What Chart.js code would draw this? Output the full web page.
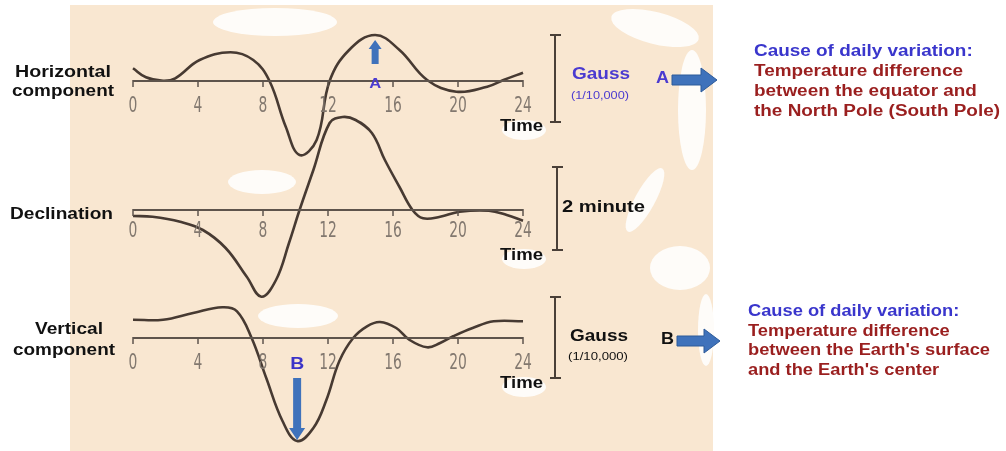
<!DOCTYPE html>
<html>
<head>
<meta charset="utf-8">
<script src="https://cdn.jsdelivr.net/npm/chart.js@4.4.1/dist/chart.umd.min.js"></script>
<style>
  html, body { margin: 0; padding: 0; background: #fff; }
  #wrap { position: relative; width: 1006px; height: 451px; }
</style>
</head>
<body>
<div id="wrap"><canvas id="geomag"></canvas></div>
<script>
// Hour ticks shared by the three traces
const timeTicks = [0, 4, 8, 12, 16, 20, 24];

// Horizontal component: deviation from its zero line (arbitrary units)
const horizontalHours  = [0, 0.8, 1.85, 2.6, 4.1, 6.0, 7.4, 8.4, 9.4, 10.25, 11.3, 12.1, 13.3, 14.9, 16.4, 18.1, 19.9, 21.8, 22.8, 24];
const horizontalValues = [12.7, 3.7, 0.3, 2.7, 21, 28.7, 21, 0, -45.7, -74, -59, 0, 31, 46, 31, 1, -10.7, -5.7, 1, 8.3];

// Declination
const declinationHours  = [0, 1.2, 2.9, 4.3, 5.7, 7.0, 7.9, 8.8, 9.6, 10.25, 11.1, 12.1, 12.9, 13.7, 14.7, 15.5, 16.4, 17.2, 17.85, 18.9, 20.1, 21.9, 23, 24];
const declinationValues = [-6, -6.7, -11.7, -20, -38, -66.7, -86.7, -70, -33, 0, 40, 87, 93, 90, 77, 50, 23, 0, -8.3, -6.7, -1.7, -0.7, -5, -10.7];

// Vertical component
const verticalHours  = [0, 1.85, 3.7, 5.5, 6.4, 7.3, 8.2, 9.2, 10.1, 11.1, 11.9, 12.7, 13.55, 14.4, 15.2, 16.2, 17.0, 18.1, 18.9, 19.7, 20.9, 22.2, 24];
const verticalValues = [18.3, 18.3, 25, 30.7, 26.7, 0, -40, -83, -103, -90, -62, -23, 0, 11.7, 16, 10, -1.7, -9.3, -5, 1.7, 10, 16.7, 16.7];

// where each trace's zero line sits on the shared vertical scale (0..451)
const panelZero = [370, 241, 113];
const panelLabelDrop = [26, 22, 26];

const inkColor = '#473a32';
const axisColor = '#5e544c';

function toPoints(hours, values, zero) {
    return hours.map((h, i) => ({ x: h, y: zero + values[i] }));
}

function baseline(zero) {
    return [{ x: 0, y: zero }, { x: 24, y: zero }];
}

// draw text squeezed/stretched to a given width
function fitText(ctx, str, x, y, width, font, color) {
    ctx.save();
    ctx.font = font;
    ctx.fillStyle = color;
    ctx.textBaseline = 'middle';
    ctx.textAlign = 'left';
    const w = ctx.measureText(str).width;
    ctx.translate(x, y);
    ctx.scale(width / w, 1);
    ctx.fillText(str, 0, 0);
    ctx.restore();
}

// a block of lines sharing one horizontal scale
function textBlock(ctx, lines, x, y0, step, longest, width, font, colors) {
    ctx.save();
    ctx.font = font;
    const s = width / ctx.measureText(longest).width;
    ctx.textBaseline = 'middle';
    lines.forEach((ln, i) => {
        ctx.save();
        ctx.fillStyle = colors[i];
        ctx.translate(x, y0 + i * step);
        ctx.scale(s, 1);
        ctx.fillText(ln, 0, 0);
        ctx.restore();
    });
    ctx.restore();
}

function blockArrow(ctx, x0, x1, y, color) {
    ctx.save();
    ctx.fillStyle = color;
    ctx.strokeStyle = '#2d5a99';
    ctx.lineWidth = 1;
    const head = 16;
    ctx.beginPath();
    ctx.moveTo(x0, y - 5);
    ctx.lineTo(x1 - head, y - 5);
    ctx.lineTo(x1 - head, y - 12);
    ctx.lineTo(x1, y);
    ctx.lineTo(x1 - head, y + 12);
    ctx.lineTo(x1 - head, y + 5);
    ctx.lineTo(x0, y + 5);
    ctx.closePath();
    ctx.fill();
    ctx.stroke();
    ctx.restore();
}

function vArrow(ctx, x, yTail, yTip, shaft, headW, headH, color) {
    const dir = yTip < yTail ? -1 : 1;
    const yHead = yTip - dir * headH;
    ctx.save();
    ctx.fillStyle = color;
    ctx.beginPath();
    ctx.moveTo(x - shaft / 2, yTail);
    ctx.lineTo(x - shaft / 2, yHead);
    ctx.lineTo(x - headW / 2, yHead);
    ctx.lineTo(x, yTip);
    ctx.lineTo(x + headW / 2, yHead);
    ctx.lineTo(x + shaft / 2, yHead);
    ctx.lineTo(x + shaft / 2, yTail);
    ctx.closePath();
    ctx.fill();
    ctx.restore();
}

const paperPlugin = {
    id: 'paper',
    beforeDraw(chart) {
        const ctx = chart.ctx;
        ctx.save();
        ctx.fillStyle = '#ffffff';
        ctx.fillRect(0, 0, chart.width, chart.height);
        ctx.fillStyle = '#f9e7d1';
        ctx.fillRect(70, 5, 643, 446);
        // white patches on the scanned sheet
        ctx.fillStyle = '#fefcf9';
        const blobs = [
            [275, 22, 62, 14, 0], [262, 182, 34, 12, 0], [298, 316, 40, 12, 0],
            [524, 130, 22, 10, 0], [524, 259, 22, 10, 0], [524, 387, 22, 10, 0],
            [655, 28, 45, 16, 0.25], [692, 110, 14, 60, 0], [645, 200, 10, 36, 0.5],
            [680, 268, 30, 22, 0], [706, 330, 8, 36, 0]
        ];
        blobs.forEach(b => {
            ctx.beginPath();
            ctx.ellipse(b[0], b[1], b[2], b[3], b[4], 0, Math.PI * 2);
            ctx.fill();
        });
        ctx.restore();
    }
};

const notesPlugin = {
    id: 'notes',
    afterDatasetsDraw(chart) {
        const ctx = chart.ctx;
        const xs = chart.scales.x, ys = chart.scales.y;

        panelZero.forEach((zero, p) => {
            const by = ys.getPixelForValue(zero);
            ctx.save();
            ctx.strokeStyle = axisColor;
            ctx.lineWidth = 1.5;
            timeTicks.forEach(t => {
                const px = xs.getPixelForValue(t);
                ctx.beginPath();
                ctx.moveTo(px, by - 1);
                ctx.lineTo(px, by + 6);
                ctx.stroke();
            });
            ctx.restore();

            ctx.save();
            ctx.font = '21px "DejaVu Sans"';
            ctx.fillStyle = '#82786f';
            ctx.textBaseline = 'middle';
            ctx.textAlign = 'center';
            timeTicks.forEach(t => {
                const px = xs.getPixelForValue(t);
                ctx.save();
                ctx.translate(px, by + panelLabelDrop[p]);
                ctx.scale(0.66, 1);
                ctx.fillText(String(t), 0, 0);
                ctx.restore();
            });
            ctx.restore();

            fitText(ctx, 'Time', 500, by + 46, 43, 'bold 16px Arial', '#111');
        });

        // scale bars
        const bars = [[555, 35, 122], [557, 167, 250], [555, 297, 378]];
        ctx.save();
        ctx.strokeStyle = '#4a4038';
        ctx.lineWidth = 2;
        bars.forEach(b => {
            ctx.beginPath();
            ctx.moveTo(b[0], b[1]); ctx.lineTo(b[0], b[2]);
            ctx.moveTo(b[0] - 5, b[1]); ctx.lineTo(b[0] + 6, b[1]);
            ctx.moveTo(b[0] - 5, b[2]); ctx.lineTo(b[0] + 6, b[2]);
            ctx.stroke();
        });
        ctx.restore();

        // left labels
        const lbl = 'bold 16px Arial';
        fitText(ctx, 'Horizontal', 15, 73, 96, lbl, '#111');
        fitText(ctx, 'component', 12, 92, 102, lbl, '#111');
        fitText(ctx, 'Declination', 10, 215, 103, lbl, '#111');
        fitText(ctx, 'Vertical', 35, 330, 68, lbl, '#111');
        fitText(ctx, 'component', 13, 351, 102, lbl, '#111');

        // units beside the bars
        fitText(ctx, 'Gauss', 572, 75, 58, 'bold 16px Arial', '#4b3bd0');
        fitText(ctx, '(1/10,000)', 571, 96, 58, '10px Arial', '#4b3bd0');
        fitText(ctx, '2 minute', 562, 208, 83, 'bold 16px Arial', '#111');
        fitText(ctx, 'Gauss', 570, 337, 58, 'bold 16px Arial', '#111');
        fitText(ctx, '(1/10,000)', 568, 357, 60, '10px Arial', '#111');

        // A and B markers
        const arrowBlue = '#3f72bb';
        fitText(ctx, 'A', 656, 79, 13, 'bold 16px Arial', '#4b3bd0');
        blockArrow(ctx, 672, 717, 80, arrowBlue);
        fitText(ctx, 'B', 661, 340, 13, 'bold 16px Arial', '#111');
        blockArrow(ctx, 677, 720, 341, arrowBlue);

        const ax = xs.getPixelForValue(14.9);
        vArrow(ctx, ax, 64, 40, 7, 13, 9, arrowBlue);
        fitText(ctx, 'A', ax - 6, 84, 12, 'bold 15px Arial', '#4b3bd0');
        const bx = xs.getPixelForValue(10.1);
        fitText(ctx, 'B', bx - 7, 364, 14, 'bold 17px Arial', '#3b33c8');
        vArrow(ctx, bx, 378, 440, 8, 16, 12, arrowBlue);

        // explanations on the right
        const red = '#9a1f1f', blue = '#3a36cc';
        textBlock(ctx, ['Cause of daily variation:', 'Temperature difference', 'between the equator and', 'the North Pole (South Pole)'],
            754, 52, 20, 'the North Pole (South Pole)', 246, 'bold 16px Arial', [blue, red, red, red]);
        textBlock(ctx, ['Cause of daily variation:', 'Temperature difference', "between the Earth's surface", "and the Earth's center"],
            748, 312, 19.5, "between the Earth's surface", 242, 'bold 16px Arial', [blue, red, red, red]);
    }
};

const curveStyle = {
    borderColor: inkColor,
    borderWidth: 2.6,
    pointRadius: 0,
    fill: false,
    clip: false,
    tension: 0.4
};
const axisStyle = {
    borderColor: axisColor,
    borderWidth: 2,
    pointRadius: 0,
    fill: false,
    clip: false
};

new Chart(document.getElementById('geomag'), {
    type: 'line',
    data: {
        datasets: [
            { label: 'Horizontal axis', data: baseline(panelZero[0]), ...axisStyle },
            { label: 'Declination axis', data: baseline(panelZero[1]), ...axisStyle },
            { label: 'Vertical axis', data: baseline(panelZero[2]), ...axisStyle },
            { label: 'Horizontal component', data: toPoints(horizontalHours, horizontalValues, panelZero[0]), ...curveStyle },
            { label: 'Declination', data: toPoints(declinationHours, declinationValues, panelZero[1]), ...curveStyle },
            { label: 'Vertical component', data: toPoints(verticalHours, verticalValues, panelZero[2]), ...curveStyle }
        ]
    },
    options: {
        responsive: true,
        maintainAspectRatio: false,
        animation: false,
        events: [],
        layout: { padding: { left: 133, right: 483, top: 0, bottom: 0 } },
        plugins: { legend: { display: false }, tooltip: { enabled: false } },
        scales: {
            x: { type: 'linear', min: 0, max: 24, display: false },
            y: { type: 'linear', min: 0, max: 451, display: false }
        }
    },
    plugins: [paperPlugin, notesPlugin]
});
</script>
</body>
</html>
